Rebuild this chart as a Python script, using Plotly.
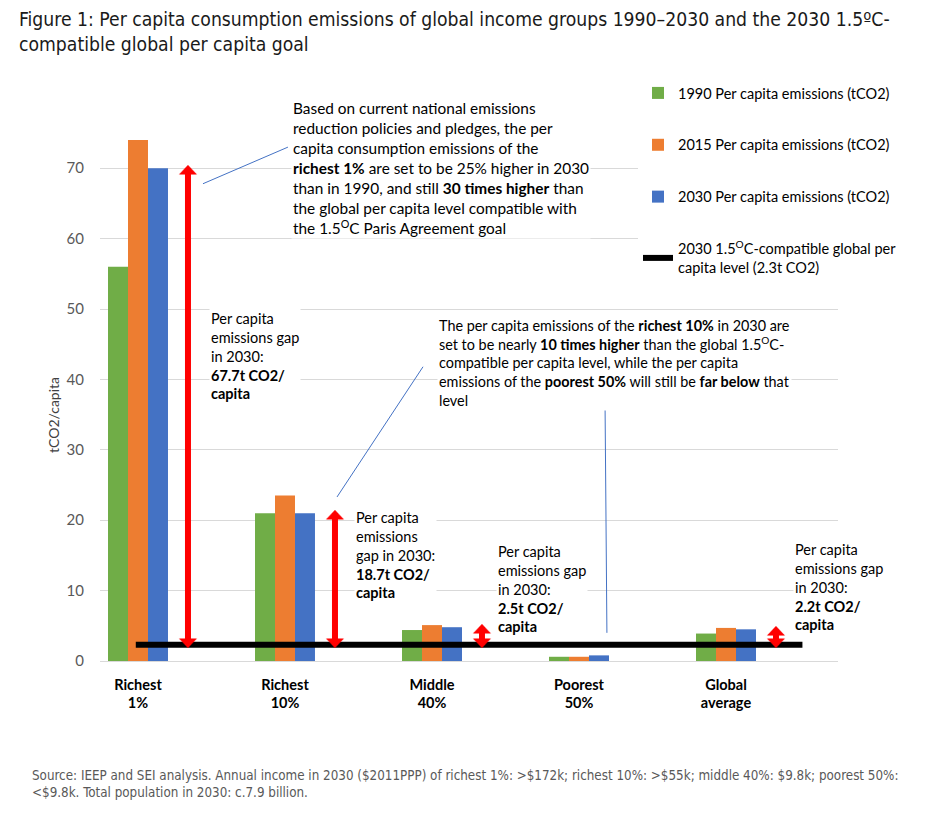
import plotly.graph_objects as go

# ---------------- data ----------------
categories = ["Richest<br>1%", "Richest<br>10%", "Middle<br>40%", "Poorest<br>50%", "Global<br>average"]
emissions_1990 = [56.0, 21.0, 4.4, 0.6, 3.9]
emissions_2015 = [74.0, 23.5, 5.1, 0.6, 4.7]
emissions_2030 = [70.0, 21.0, 4.8, 0.8, 4.5]
goal_2030 = 2.3
gap_labels = ["67.7t CO2/", "18.7t CO2/", "2.5t CO2/", None, "2.2t CO2/"]

series_names = ["1990 Per capita emissions (tCO2)",
                "2015 Per capita emissions (tCO2)",
                "2030 Per capita emissions (tCO2)"]
series_colors = ["#70AD47", "#ED7D31", "#4472C4"]
goal_name = "2030 1.5<sup>O</sup>C-compatible global per<br>capita level (2.3t CO2)"

FONT = "Lato, Calibri, Carlito, sans-serif"
COND = "DejaVu Sans Condensed, Liberation Sans Narrow, Roboto, sans-serif"
RED = "#FF0000"

# page body has an 8px margin: plot area placed so it lands at x 100-838, y 168(70)-661(0)
PL, PT = 92, 118
PW, PH = 738, 535


def px_x(p):  # page pixel -> paper x
    return (p - 8 - PL) / PW


def px_y(p):  # page pixel -> paper y
    return (PT + PH - (p - 8)) / PH


xpos = list(range(len(categories)))

fig = go.Figure()
for name, vals, col in zip(series_names, [emissions_1990, emissions_2015, emissions_2030], series_colors):
    fig.add_trace(go.Bar(x=xpos, y=vals, name=name, marker_color=col,
                         marker_line_width=0, legendgroup=name))

# goal line
fig.add_trace(go.Scatter(x=[xpos[0] - 0.015, xpos[-1] + 0.52], y=[goal_2030, goal_2030],
                         mode="lines", line=dict(color="black", width=6),
                         name=goal_name, legendgroup="goal", hoverinfo="skip"))

# red double-headed gap arrows (shaft in data units, heads in pixels)
ARROW_OFF = 0.34
HEAD_UP = "M0,3 L8.5,-6 L-8.5,-6 Z"
HEAD_DOWN = "M0,-3 L8.5,6 L-8.5,6 Z"
for i, v in enumerate(emissions_2030):
    if gap_labels[i] is None:
        continue
    ax_x = xpos[i] + ARROW_OFF
    fig.add_shape(type="line", xref="x", yref="y", x0=ax_x, x1=ax_x, y0=goal_2030, y1=v,
                  line=dict(color=RED, width=6), layer="above")
    fig.add_shape(type="path", xref="x", yref="y", xsizemode="pixel", ysizemode="pixel",
                  xanchor=ax_x, yanchor=v, path=HEAD_UP, fillcolor=RED,
                  line=dict(color=RED, width=0.5), layer="above")
    fig.add_shape(type="path", xref="x", yref="y", xsizemode="pixel", ysizemode="pixel",
                  xanchor=ax_x, yanchor=goal_2030, path=HEAD_DOWN, fillcolor=RED,
                  line=dict(color=RED, width=0.5), layer="above")

# gap text boxes
gap_pos = {0: (0.483, 50.1, "Per capita<br>emissions gap<br>in 2030:"),
           1: (1.469, 21.9, "Per capita<br>emissions<br>gap in 2030:"),
           2: (2.435, 17.0, "Per capita<br>emissions gap<br>in 2030:"),
           4: (4.456, 17.3, "Per capita<br>emissions gap<br>in 2030:")}
for i, (gx, gy, head) in gap_pos.items():
    fig.add_annotation(x=gx, y=gy, xref="x", yref="y", xanchor="left", yanchor="top",
                       align="left", showarrow=False, bgcolor="white", borderpad=1,
                       text=head + "<br><b>" + gap_labels[i] + "<br>capita</b>",
                       font=dict(family=FONT, size=14.5, color="black"))

# big explanatory boxes
fig.add_annotation(x=px_x(291), y=px_y(97), xref="paper", yref="paper",
                   xanchor="left", yanchor="top",
                   align="left", showarrow=False, bgcolor="white", borderpad=1,
                   font=dict(family=FONT, size=15.4, color="black"),
                   text=("Based on current national emissions<br>"
                         "reduction policies and pledges, the per<br>"
                         "capita consumption emissions of the<br>"
                         "<b>richest 1%</b> are set to be 25% higher in 2030<br>"
                         "than in 1990, and still <b>30 times higher</b> than<br>"
                         "the global per capita level compatible with<br>"
                         "the 1.5<sup>O</sup>C Paris Agreement goal"))
fig.add_annotation(x=2.034, y=49.1, xref="x", yref="y", xanchor="left", yanchor="top",
                   align="left", showarrow=False, bgcolor="white", borderpad=1,
                   font=dict(family=FONT, size=14.4, color="black"),
                   text=("The per capita emissions of the <b>richest 10%</b> in 2030 are<br>"
                         "set to be nearly <b>10 times higher</b> than the global 1.5<sup>O</sup>C-<br>"
                         "compatible per capita level, while the per capita<br>"
                         "emissions of the <b>poorest 50%</b> will still be <b>far below</b> that<br>"
                         "level"))

# thin callout lines
for (x0, y0, x1, y1) in [(0.442, 67.8, 1.020, 73.0), (1.354, 23.3, 1.939, 41.8), (3.177, 37.2, 3.190, 4.0)]:
    fig.add_shape(type="line", xref="x", yref="y", x0=x0, y0=y0, x1=x1, y1=y1,
                  line=dict(color="#4472C4", width=1))

# title
fig.add_annotation(xref="paper", yref="paper", x=px_x(17), y=px_y(6),
                   xanchor="left", yanchor="top", align="left", showarrow=False,
                   font=dict(family=COND, size=19.2, color="#1a1a1a"),
                   text=("Figure 1: Per capita consumption emissions of global income groups 1990–2030 and the 2030 1.5ºC-<br>"
                         "compatible global per capita goal"))

# y axis title
fig.add_annotation(xref="paper", yref="paper", x=px_x(53), y=px_y(415),
                   xanchor="center", yanchor="middle", textangle=-90, showarrow=False,
                   font=dict(family=FONT, size=14, color="#404040"), text="tCO2/capita")

# source
fig.add_annotation(xref="paper", yref="paper", x=px_x(30), y=px_y(766),
                   xanchor="left", yanchor="top", align="left", showarrow=False,
                   font=dict(family=COND, size=13.3, color="#595959"),
                   text=("Source: IEEP and SEI analysis. Annual income in 2030 ($2011PPP) of richest 1%: &gt;$172k; "
                         "richest 10%: &gt;$55k; middle 40%: $9.8k; poorest 50%:<br>"
                         "&lt;$9.8k. Total population in 2030: c.7.9 billion."))

fig.update_layout(
    width=936, height=816,
    margin=dict(l=PL, r=936 - PL - PW, t=PT, b=816 - PT - PH, autoexpand=False),
    paper_bgcolor="white", plot_bgcolor="white",
    barmode="group", bargap=0.592, bargroupgap=0,
    font=dict(family=FONT, color="#595959"),
    showlegend=True,
    legend=dict(x=px_x(638), xanchor="left", y=px_y(77), yanchor="top",
                bgcolor="white", tracegroupgap=30, traceorder="grouped",
                font=dict(family=FONT, size=14.5, color="black")),
    xaxis=dict(range=[-0.2585, 4.762], tickvals=xpos, ticktext=["<b>" + c + "</b>" for c in categories],
               showgrid=False, zeroline=False, showline=False, ticks="", automargin=False,
               tickfont=dict(family=FONT, size=14.5, color="black"), ticklabelstandoff=13),
    yaxis=dict(range=[0, 76], dtick=10, showgrid=True, gridcolor="#D9D9D9", gridwidth=1,
               zeroline=True, zerolinecolor="#D9D9D9", zerolinewidth=1,
               ticks="", ticklabelstandoff=15, automargin=False,
               tickfont=dict(family=FONT, size=15, color="#595959")),
)

fig.write_html("out.html")
